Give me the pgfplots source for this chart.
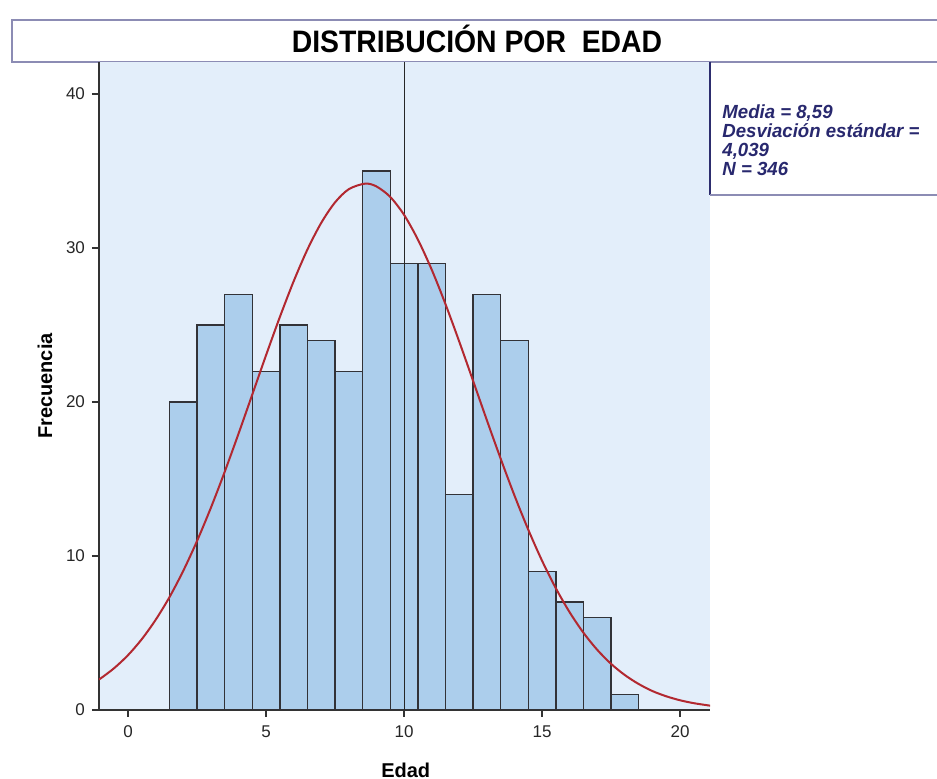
\documentclass[border=0pt]{standalone}
\usepackage{pgfplots}
\pgfplotsset{compat=1.18}
\usepackage{fontspec}
\setmainfont{Liberation Sans}
\definecolor{plotbg}{RGB}{227,238,250}
\definecolor{barfill}{RGB}{172,206,236}
\definecolor{baredge}{RGB}{50,50,55}
\definecolor{curvered}{RGB}{178,40,48}
\definecolor{boxline}{RGB}{140,140,180}
\definecolor{navy}{RGB}{45,45,110}
\definecolor{legtext}{RGB}{40,40,110}
\begin{document}
\begin{tikzpicture}
\useasboundingbox (0pt,0pt) rectangle (468.5pt,389.5pt);
% title box
\draw[boxline, line width=1.3pt] (468.5pt,379.5pt) -- (6pt,379.5pt) -- (6pt,358.5pt) -- (468.5pt,358.5pt);
\node[font=\bfseries\fontsize{15.5pt}{17pt}\selectfont, xscale=0.915, inner sep=0pt] at (238.5pt,370pt) {DISTRIBUCIÓN POR\ \ EDAD};
\begin{axis}[
  at={(49.5pt,34.5pt)}, anchor=south west,
  scale only axis, width=305.5pt, height=324pt,
  xmin=-1.051, xmax=21.087, ymin=0, ymax=42.08,
  axis background/.style={fill=plotbg},
  axis x line*=bottom, axis y line*=left,
  axis line style={draw=black!80, line width=0.8pt},
  xtick={0,5,10,15,20}, ytick={0,10,20,30,40},
  tick align=outside, tick style={black!80, line width=0.8pt},
  major tick length=3.5pt,
  /pgf/number format/assume math mode=true,
  ticklabel style={font=\fontsize{8.5pt}{10pt}\selectfont, text=black!85},
  xticklabel style={yshift=-1pt},
  xlabel={\textbf{Edad}}, ylabel={\textbf{Frecuencia}},
  label style={font=\bfseries\fontsize{10pt}{12pt}\selectfont},
  xlabel style={at={(axis description cs:0.502,0)}, anchor=center, yshift=-30pt},
  ylabel style={at={(axis description cs:-0.0884,0.5)}, anchor=center},
  clip=true,
]
\addplot[ybar interval, fill=barfill, draw=baredge, line width=0.7pt] coordinates {
(1.5,20) (2.5,25) (3.5,27) (4.5,22) (5.5,25) (6.5,24) (7.5,22) (8.5,35)
(9.5,29) (10.5,29) (11.5,14) (12.5,27) (13.5,24) (14.5,9) (15.5,7)
(16.5,6) (17.5,1) (18.5,1)
};
\addplot[black!85, line width=0.5pt] coordinates {(10,0) (10,42.08)};
\addplot[curvered, line width=1pt, smooth] coordinates {
(-1.1,1.98) (-1,2.04) (-0.5,2.72) (0,3.56) (0.5,4.60) (1,5.85) (1.5,7.32) (2,9.03)
(2.5,10.97) (3,13.12) (3.5,15.45) (4,17.92) (4.5,20.47) (5,23.03)
(5.5,25.51) (6,27.83) (6.5,29.90) (7,31.63) (7.5,32.96) (8,33.82)
(8.59,34.18) (9,34.00) (9.5,33.32) (10,32.16) (10.5,30.56) (11,28.61)
(11.5,26.37) (12,23.93) (12.5,21.39) (13,18.83) (13.5,16.33) (14,13.94)
(14.5,11.72) (15,9.70) (15.5,7.91) (16,6.35) (16.5,5.02) (17,3.91)
(17.5,3.00) (18,2.27) (18.5,1.69) (19,1.23) (19.5,0.89) (20,0.632)
(20.5,0.442) (21,0.305) (21.1,0.28)
};
\end{axis}
% legend box
\draw[navy, line width=1.2pt] (355pt,358.5pt) -- (355pt,292pt);
\draw[boxline, line width=1.3pt] (355pt,292pt) -- (468.5pt,292pt);
\node[anchor=north west, inner sep=0pt, text=legtext, align=left,
  font=\bfseries\itshape\fontsize{9.5pt}{9.6pt}\selectfont, xscale=0.98]
  at (361pt,337.5pt) {Media = 8,59\\Desviación estándar =\\4,039\\N = 346};
\end{tikzpicture}
\end{document}
